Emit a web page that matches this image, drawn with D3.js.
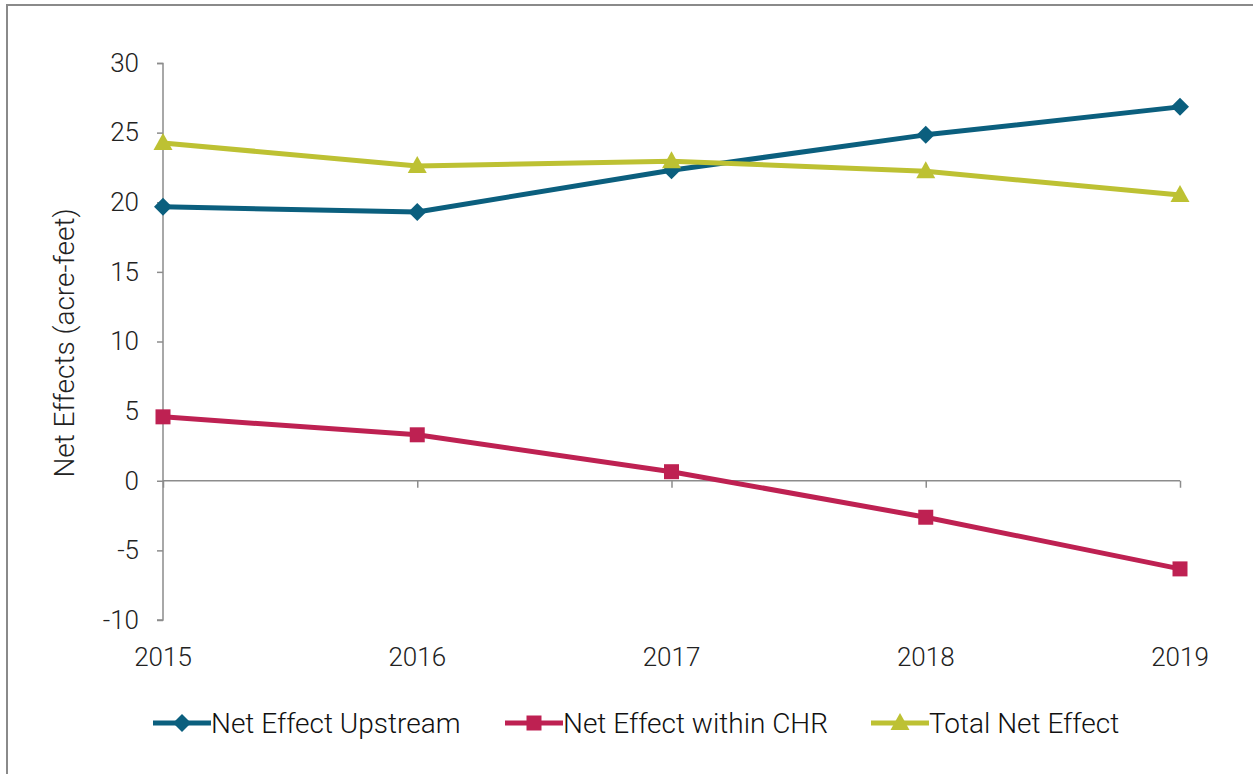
<!DOCTYPE html>
<html>
<head>
<meta charset="utf-8">
<script src="https://cdn.jsdelivr.net/npm/d3@7"></script>
<style>
html,body{margin:0;padding:0;background:#fff;}
svg{display:block;font-family:Roboto,"Noto Sans",sans-serif;font-weight:300;}
</style>
</head>
<body>
<svg id="chart" width="1253" height="774"></svg>
<script>
const years = ["2015","2016","2017","2018","2019"];
const upstream = [19.67, 19.3, 22.3, 24.84, 26.85];
const withinCHR = [4.59, 3.3, 0.65, -2.62, -6.33];
const totalNet = [24.26, 22.6, 22.95, 22.22, 20.52];
const yTicks = [-10, -5, 0, 5, 10, 15, 20, 25, 30];
const seriesNames = ["Net Effect Upstream", "Net Effect within CHR", "Total Net Effect"];
const seriesColors = ["#0B5F7E", "#BE2152", "#BDC133"];
const seriesSymbols = ["diamond", "square", "triangle"];

const series = [upstream, withinCHR, totalNet].map((v, i) => ({
  name: seriesNames[i], values: v, color: seriesColors[i], symbol: seriesSymbols[i]
}));

const svg = d3.select("#chart");
// frame
svg.append("path").attr("d", "M7,774 V5 H1253").attr("fill", "none").attr("stroke", "#8a8a8a").attr("stroke-width", 2);

const x = d3.scalePoint().domain(years).range([163, 1180]);
const y = d3.scaleLinear().domain([-10, 30]).range([620, 63]);

// y axis
const yAxis = d3.axisLeft(y).tickValues(yTicks).tickSize(6).tickPadding(18).tickFormat(d => String(d));
const gy = svg.append("g").attr("transform", "translate(163,0)").call(yAxis);
gy.attr("font-size", null).attr("font-family", null);
gy.select(".domain").attr("stroke", "#8c8c8c").attr("stroke-width", 1.5).attr("d", "M-6,63.5H0V620H-6");
gy.selectAll(".tick line").attr("stroke", "#8c8c8c").attr("stroke-width", 1.5);
gy.selectAll(".tick text").attr("font-size", 26).attr("fill", "#222").attr("font-family", "Roboto").attr("font-weight", 300);

// x axis along zero
const xAxis = d3.axisBottom(x).tickSize(7).tickFormat("");
const gx = svg.append("g").attr("transform", `translate(0,${y(0)})`).call(xAxis);
gx.select(".domain").attr("stroke", "#8c8c8c").attr("stroke-width", 1.5).attr("d", `M163,0H1180`);
gx.selectAll(".tick line").attr("stroke", "#8c8c8c").attr("stroke-width", 1.5);

// x labels at bottom
svg.append("g").selectAll("text").data(years).join("text")
  .attr("x", d => x(d)).attr("y", 666).attr("text-anchor", "middle")
  .attr("font-size", 26).attr("fill", "#222").text(d => d);

// y title
svg.append("text").attr("transform", "translate(74,343) rotate(-90)")
  .attr("text-anchor", "middle").attr("font-size", 28).attr("fill", "#222")
  .text("Net Effects (acre-feet)");

function symPath(s) {
  if (s === "diamond") return "M0,-9L9,0L0,9L-9,0Z";
  if (s === "square") return "M-7.5,-7.5H7.5V7.5H-7.5Z";
  return "M0,-10L9.5,7H-9.5Z";
}

const line = d3.line().x((d, i) => x(years[i])).y(d => y(d));
series.forEach(s => {
  svg.append("path").datum(s.values).attr("d", line)
    .attr("fill", "none").attr("stroke", s.color).attr("stroke-width", 5).attr("stroke-linejoin", "round");
  svg.append("g").selectAll("path").data(s.values).join("path")
    .attr("transform", (d, i) => `translate(${x(years[i])},${y(d)})`)
    .attr("d", symPath(s.symbol)).attr("fill", s.color);
});

// legend
const legendX = [153, 505, 871];
const lg = svg.append("g");
series.forEach((s, i) => {
  const g = lg.append("g").attr("transform", `translate(${legendX[i]},723)`);
  g.append("line").attr("x1", 0).attr("x2", 58).attr("stroke", s.color).attr("stroke-width", 5);
  g.append("path").attr("transform", "translate(29,0)").attr("d", symPath(s.symbol)).attr("fill", s.color);
  g.append("text").attr("x", 58).attr("y", 10).attr("font-size", 28).attr("fill", "#111").text(s.name);
});
</script>
</body>
</html>
